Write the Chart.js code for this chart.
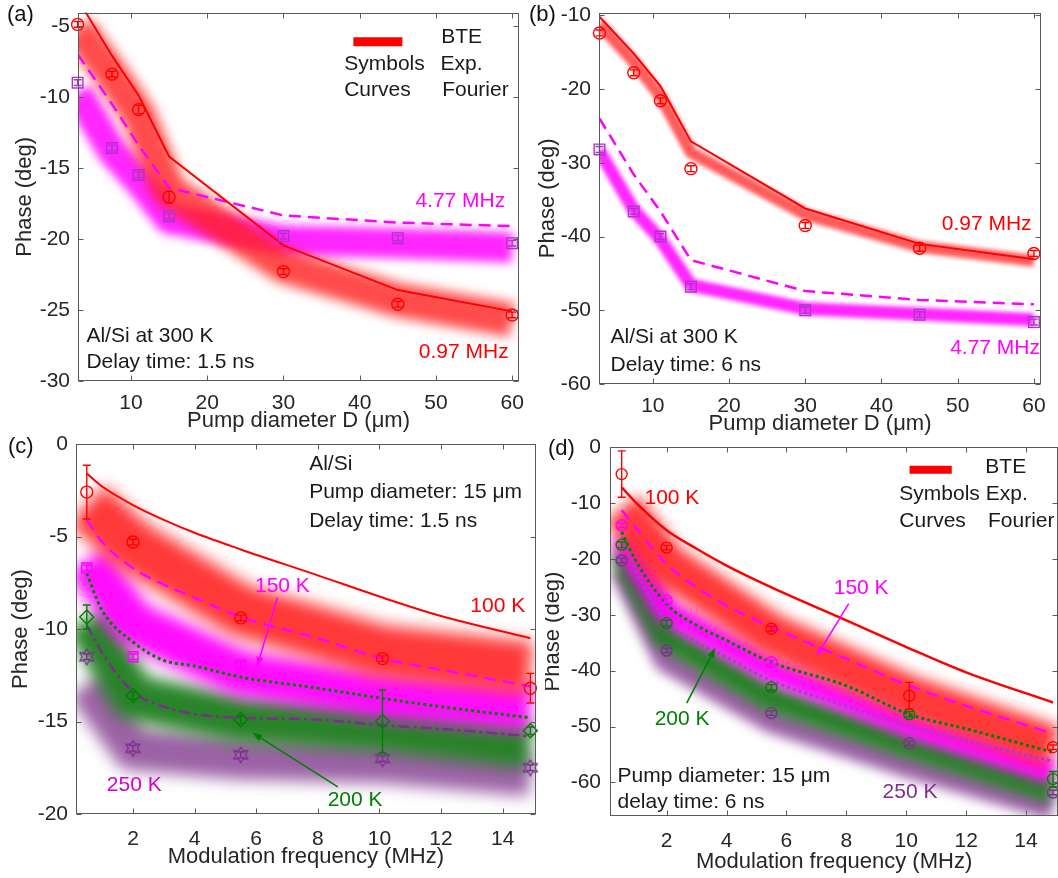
<!DOCTYPE html>
<html>
<head>
<meta charset="utf-8">
<script src="https://cdn.jsdelivr.net/npm/chart.js@4.4.1/dist/chart.umd.min.js"></script>
<style>
  body { margin: 0; background: #fff; width: 1058px; height: 878px; overflow: hidden; position: relative; }
  .panel { position: absolute; }
</style>
</head>
<body>
<div class="panel" style="left:0;top:0"><canvas id="chart-a" width="529" height="440"></canvas></div>
<div class="panel" style="left:529px;top:0"><canvas id="chart-b" width="529" height="444"></canvas></div>
<div class="panel" style="left:0;top:420px"><canvas id="chart-c" width="545" height="458"></canvas></div>
<div class="panel" style="left:545px;top:420px"><canvas id="chart-d" width="520" height="458"></canvas></div>
<script>
// ---- panels (a), (b): phase vs pump diameter ----
const diameters = [3, 7.5, 11, 15, 30, 45, 60];
const aExp097 = [-4.9, -8.4, -10.9, -17.05, -22.3, -24.6, -25.35];
const aExp477 = [-9.0, -13.6, -15.5, -18.4, -19.8, -19.95, -20.3];
const aErr097 = [0.2, 0.2, 0.3, 0.4, 0.2, 0.2, 0.2];
const aErr477 = [0.2, 0.2, 0.2, 0.2, 0.2, 0.2, 0.2];
const aFou097 = [-3.1, -7.1, -9.9, -14.2, -20.45, -23.6, -25.1];
const aFou477 = [-7.0, -10.5, -13.4, -16.4, -18.35, -18.85, -19.1];
const aBte097 = [-5.2, -8.5, -11.3, -16.6, -21.9, -24.3, -25.7];
const aBte477 = [-9.7, -13.8, -15.9, -18.6, -20.1, -20.3, -20.6];

const bExp097 = [-12.4, -17.8, -21.6, -30.8, -38.5, -41.6, -42.3];
const bExp477 = [-28.2, -36.6, -40.0, -46.8, -50.0, -50.6, -51.6];
const bErr = [0.4, 0.4, 0.4, 0.4, 0.4, 0.4, 0.4];
const bFou097 = [-10.2, -15.2, -19.6, -27.1, -36.2, -41.0, -43.1];
const bFou477 = [-24.0, -31.6, -36.6, -43.2, -47.4, -48.6, -49.2];
const bBte097 = [-11.2, -16.3, -21.0, -28.6, -37.0, -41.4, -43.3];
const bBte477 = [-28.4, -36.4, -40.4, -46.6, -49.8, -50.5, -51.3];

const diamTicks = [10, 20, 30, 40, 50, 60];
const aPhaseTicks = [-30, -25, -20, -15, -10, -5];
const bPhaseTicks = [-60, -50, -40, -30, -20, -10];

// ---- panels (c), (d): phase vs modulation frequency ----
const freqs = [0.5, 2, 5.5, 10.1, 14.9];
const curveFreqs = [0.5, 1, 2, 3, 4, 5.5, 8, 10.1, 12, 14.9];

const cExp100 = [-2.6, -5.3, -9.4, -11.6, -13.2];
const cErr100 = [1.45, 0.15, 0.15, 0.15, 0.8];
const cExp150 = [-6.7, -11.5, -11.95, null, null];
const cErr150 = [0.15, 0.15, 0.15, 0, 0];
const cExp200 = [-9.35, -13.6, -14.9, -15.0, -15.5];
const cErr200 = [0.65, 0.2, 0.2, 1.7, 0.2];
const cExp250 = [-11.5, -16.45, -16.8, -17.0, -17.5];
const cErr250 = [0.15, 0.15, 0.15, 0.15, 0.15];
const cFou100 = [-1.6, -2.3, -3.3, -4.1, -4.8, -5.7, -7.1, -8.3, -9.3, -10.5];
const cFou150 = [-4.1, -5.3, -6.7, -7.6, -8.3, -9.35, -10.5, -11.6, -12.2, -13.1];
const cFou200 = [-7.0, -9.0, -10.7, -11.7, -12.0, -12.6, -13.2, -13.75, -14.2, -14.8];
const cFou250 = [-9.8, -11.3, -13.4, -14.2, -14.6, -14.8, -14.9, -15.2, -15.4, -15.8];
const cBte100 = [-3.3, -5.5, -9.0, -11.2, -12.1];
const cBte150 = [-6.3, -9.7, -12.4, -13.6, -14.3];
const cBte200 = [-9.5, -13.7, -14.9, -15.4, -16.3];
const cBte250 = [-13.0, -16.5, -17.0, -17.2, -17.9];

const dExp100 = [-4.85, -18.0, -32.5, -44.5, -53.7];
const dErr100 = [4.15, 0.4, 0.4, 2.4, 0.4];
const dExp150 = [-14.0, -27.5, -38.5, null, null];
const dErr150 = [0.4, 0.4, 0.4, 0, 0];
const dExp200 = [-17.5, -31.5, -43.0, -47.8, -59.4];
const dErr200 = [0.5, 0.5, 0.5, 0.5, 1.35];
const dExp250 = [-20.3, -36.4, -47.6, -53.0, -61.8];
const dErr250 = [0.4, 0.4, 0.4, 0.4, 0.4];
const dFou100 = [-7.2, -10.1, -14.9, -18.2, -21.2, -25.1, -31.0, -36.0, -40.3, -45.7];
const dFou150 = [-11.3, -14.6, -21.0, -25.1, -28.4, -32.2, -37.9, -42.7, -46.3, -51.3];
const dFou200 = [-15.2, -20.6, -28.1, -31.9, -34.6, -38.5, -42.7, -47.8, -50.4, -54.6];
const dFou250 = [-16.1, -22.4, -31.3, -34.9, -37.6, -41.8, -46.3, -49.9, -52.5, -56.2];
const dBte100 = [-11.0, -21.0, -33.5, -44.6, -53.6];
const dBte150 = [-16.0, -29.4, -39.9, -49.7, -58.1];
const dBte200 = [-18.4, -33.8, -44.9, -53.3, -61.3];
const dBte250 = [-21.5, -38.0, -48.8, -56.9, -64.4];

const freqTicks = [2, 4, 6, 8, 10, 12, 14];
const cPhaseTicks = [-20, -15, -10, -5, 0];
const dPhaseTicks = [-60, -50, -40, -30, -20, -10, 0];

// colours and fonts
const FONT = '"Liberation Sans", Arial, Helvetica, sans-serif';
const TXT = '#262626';
const RED = 'rgb(255,0,0)';
const MAG = 'rgb(255,0,255)';
const GRN = 'rgb(0,128,0)';
const PUR = 'rgb(126,47,142)';
const SQR = 'rgb(175,50,205)';

function xy(xs, ys) {
  return xs.map((x, i) => ({ x: x, y: ys[i] }));
}

function band(xs, ys, color, width, blur, order) {
  return {
    data: xy(xs, ys), borderColor: color, borderWidth: width, blur: blur,
    pointRadius: 0, fill: false, tension: 0, order: order, clip: 0,
    borderCapStyle: 'butt', borderJoinStyle: 'round'
  };
}

function curve(xs, ys, color, width, dash, smooth) {
  return {
    data: xy(xs, ys), borderColor: color, borderWidth: width, borderDash: dash,
    pointRadius: 0, fill: false, order: 3, clip: 0,
    tension: smooth ? 0.4 : 0, cubicInterpolationMode: smooth ? 'monotone' : 'default'
  };
}

function marks(xs, ys, color, style, radius, errors) {
  return {
    data: xy(xs, ys), showLine: false, pointStyle: style, pointRadius: radius,
    pointBorderColor: color, pointBackgroundColor: 'rgba(0,0,0,0)', pointBorderWidth: 1.4,
    errors: errors, order: 1, clip: false
  };
}

// outline hexagram marker (MATLAB 'h')
function hexagram(color, r) {
  const c = document.createElement('canvas');
  const s = Math.ceil(r * 2 + 4);
  c.width = s; c.height = s;
  const g = c.getContext('2d');
  g.strokeStyle = color;
  g.lineWidth = 1.3;
  g.beginPath();
  for (let k = 0; k <= 12; k++) {
    const ang = -Math.PI / 2 + k * Math.PI / 6;
    const rr = k % 2 === 0 ? r : r * 0.577;
    const px = s / 2 + rr * Math.cos(ang), py = s / 2 + rr * Math.sin(ang);
    if (k === 0) g.moveTo(px, py); else g.lineTo(px, py);
  }
  g.stroke();
  return c;
}

// soft edges for the BTE bands
const bandBlur = {
  id: 'bandBlur',
  beforeDatasetDraw(chart, args) {
    const b = chart.data.datasets[args.index].blur;
    if (b) chart.ctx.filter = 'blur(' + b + 'px)';
  },
  afterDatasetDraw(chart) {
    chart.ctx.filter = 'none';
  }
};

const errorBars = {
  id: 'errorBars',
  afterDatasetDraw(chart, args) {
    const ds = chart.data.datasets[args.index];
    if (!ds.errors) return;
    const xs = chart.scales.x, ys = chart.scales.y, ctx = chart.ctx;
    ctx.save();
    ctx.strokeStyle = ds.pointBorderColor;
    ctx.lineWidth = 1.4;
    ds.data.forEach((p, i) => {
      const e = ds.errors[i];
      if (p.y == null || !e) return;
      const px = xs.getPixelForValue(p.x);
      const top = ys.getPixelForValue(p.y + e), bot = ys.getPixelForValue(p.y - e);
      ctx.beginPath();
      ctx.moveTo(px, top); ctx.lineTo(px, bot);
      ctx.moveTo(px - 4, top); ctx.lineTo(px + 4, top);
      ctx.moveTo(px - 4, bot); ctx.lineTo(px + 4, bot);
      ctx.stroke();
    });
    ctx.restore();
  }
};

// box, inward ticks, labels, arrows, legend
const decor = {
  id: 'decor',
  afterDatasetsDraw(chart) {
    const ctx = chart.ctx, a = chart.chartArea, xs = chart.scales.x, ys = chart.scales.y;
    const L = Math.round(a.left) + 0.5, R = Math.round(a.right) - 0.5;
    const T = Math.round(a.top) + 0.5, B = Math.round(a.bottom) - 0.5;
    ctx.save();
    ctx.strokeStyle = '#5a5a5a';
    ctx.lineWidth = 1;
    ctx.strokeRect(L, T, R - L, B - T);
    ctx.beginPath();
    xs.ticks.forEach(t => {
      const p = Math.round(xs.getPixelForValue(t.value)) + 0.5;
      ctx.moveTo(p, B); ctx.lineTo(p, B - 5);
      ctx.moveTo(p, T); ctx.lineTo(p, T + 5);
    });
    ys.ticks.forEach(t => {
      const p = Math.round(ys.getPixelForValue(t.value)) + 0.5;
      ctx.moveTo(L, p); ctx.lineTo(L + 5, p);
      ctx.moveTo(R, p); ctx.lineTo(R - 5, p);
    });
    ctx.stroke();
    ctx.restore();
  },
  afterDraw(chart, args, o) {
    const ctx = chart.ctx, xs = chart.scales.x, ys = chart.scales.y;
    const X = v => xs.getPixelForValue(v), Y = v => ys.getPixelForValue(v);
    ctx.save();
    ctx.textBaseline = 'middle';
    if (o.tag) {
      ctx.font = '22px ' + FONT;
      ctx.fillStyle = '#111';
      ctx.textAlign = 'left';
      ctx.fillText(o.tag.text, o.tag.x, o.tag.y);
    }
    (o.bars || []).forEach(b => {
      ctx.strokeStyle = b.color;
      ctx.lineWidth = b.width;
      ctx.beginPath();
      ctx.moveTo(X(b.x1), Y(b.y)); ctx.lineTo(X(b.x2), Y(b.y));
      ctx.stroke();
    });
    (o.arrows || []).forEach(ar => {
      const x1 = X(ar.from[0]), y1 = Y(ar.from[1]), x2 = X(ar.to[0]), y2 = Y(ar.to[1]);
      const ang = Math.atan2(y2 - y1, x2 - x1);
      ctx.strokeStyle = ar.color; ctx.fillStyle = ar.color; ctx.lineWidth = 1.6;
      ctx.beginPath();
      ctx.moveTo(x1, y1); ctx.lineTo(x2 - 8 * Math.cos(ang), y2 - 8 * Math.sin(ang));
      ctx.stroke();
      ctx.beginPath();
      ctx.moveTo(x2, y2);
      ctx.lineTo(x2 - 10 * Math.cos(ang) + 3.5 * Math.sin(ang), y2 - 10 * Math.sin(ang) - 3.5 * Math.cos(ang));
      ctx.lineTo(x2 - 10 * Math.cos(ang) - 3.5 * Math.sin(ang), y2 - 10 * Math.sin(ang) + 3.5 * Math.cos(ang));
      ctx.closePath();
      ctx.fill();
    });
    ctx.font = '21px ' + FONT;
    (o.texts || []).forEach(t => {
      ctx.fillStyle = t.color || '#1a1a1a';
      ctx.textAlign = t.align || 'left';
      ctx.fillText(t.text, X(t.x), Y(t.y));
    });
    ctx.restore();
  }
};

function axis(kind, a) {
  return {
    type: 'linear',
    position: kind === 'x' ? 'bottom' : 'left',
    min: a.min, max: a.max,
    afterFit: s => { if (kind === 'x') s.height = a.size; else s.width = a.size; },
    afterBuildTicks: s => { s.ticks = a.ticks.map(v => ({ value: v })); },
    grid: { display: false },
    border: { display: false },
    ticks: {
      color: TXT, font: { family: FONT, size: 21 }, padding: a.pad,
      maxRotation: 0, autoSkip: false, callback: v => String(v)
    },
    title: {
      display: true, text: a.title, color: TXT,
      font: { family: FONT, size: 22 }, padding: a.titlePad
    }
  };
}

function panel(id, o) {
  return new Chart(document.getElementById(id), {
    type: 'line',
    data: { datasets: o.datasets },
    options: {
      responsive: false,
      animation: false,
      devicePixelRatio: 1,
      layout: { padding: o.padding },
      plugins: { legend: { display: false }, tooltip: { enabled: false }, decor: o.decor },
      scales: { x: axis('x', o.x), y: axis('y', o.y) }
    },
    plugins: [bandBlur, errorBars, decor]
  });
}

// (a)
panel('chart-a', {
  padding: { left: 0, right: 10, top: 5, bottom: 0 },
  x: { min: 3.05, max: 60.9, ticks: diamTicks, size: 59, pad: 2, title: 'Pump diameter D (\u03bcm)', titlePad: { top: 0, bottom: 6 } },
  y: { min: -30, max: -4.07, ticks: aPhaseTicks, size: 78, pad: 0, title: 'Phase (deg)', titlePad: { top: 12, bottom: 0 } },
  datasets: [
    band(diameters, aBte477, 'rgba(255,0,255,0.85)', 30, 5, 11),
    band(diameters, aBte097, 'rgba(255,30,30,0.8)', 34, 6, 10),
    curve(diameters, aFou097, RED, 2, [], false),
    curve(diameters, aFou477, MAG, 2.5, [12, 7], false),
    marks(diameters, aExp097, RED, 'circle', 6, aErr097),
    marks(diameters, aExp477, SQR, 'rect', 7.5, aErr477)
  ],
  decor: {
    tag: { text: '(a)', x: 7, y: 15 },
    bars: [{ x1: 39.17, x2: 45.6, y: -6.12, color: RED, width: 9 }],
    texts: [
      { text: '4.77 MHz', x: 59.1, y: -17.35, color: MAG, align: 'right' },
      { text: '0.97 MHz', x: 59.55, y: -27.95, color: RED, align: 'right' },
      { text: 'Al/Si at 300 K', x: 4.15, y: -26.85 },
      { text: 'Delay time: 1.5 ns', x: 4.15, y: -28.7 },
      { text: 'BTE', x: 50.7, y: -5.8 },
      { text: 'Symbols', x: 37.97, y: -7.72 },
      { text: 'Exp.', x: 50.6, y: -7.72 },
      { text: 'Curves', x: 37.97, y: -9.54 },
      { text: 'Fourier', x: 50.82, y: -9.54 }
    ]
  }
});

// (b)
panel('chart-b', {
  padding: { left: 0, right: 17, top: 10, bottom: 0 },
  x: { min: 2.94, max: 60.93, ticks: diamTicks, size: 60, pad: 2, title: 'Pump diameter D (\u03bcm)', titlePad: { top: 0, bottom: 7 } },
  y: { min: -60, max: -9.64, ticks: bPhaseTicks, size: 70, pad: 0, title: 'Phase (deg)', titlePad: { top: 6, bottom: 0 } },
  datasets: [
    band(diameters, bBte477, 'rgba(255,0,255,0.85)', 13, 2, 11),
    band(diameters, bBte097, 'rgba(255,50,50,0.8)', 12, 2, 10),
    curve(diameters, bFou097, RED, 2, [], false),
    curve(diameters, bFou477, MAG, 2.5, [12, 7], false),
    marks(diameters, bExp097, RED, 'circle', 6, bErr),
    marks(diameters, bExp477, SQR, 'rect', 7.5, bErr)
  ],
  decor: {
    tag: { text: '(b)', x: 0, y: 15 },
    texts: [
      { text: '0.97 MHz', x: 59.7, y: -38.27, color: RED, align: 'right' },
      { text: '4.77 MHz', x: 60.8, y: -55.1, color: MAG, align: 'right' },
      { text: 'Al/Si at 300 K', x: 4.45, y: -53.7 },
      { text: 'Delay time: 6 ns', x: 4.45, y: -57.4 }
    ]
  }
});

// (c)
panel('chart-c', {
  padding: { left: 0, right: 6, top: 24, bottom: 0 },
  x: { min: 0.15, max: 15.07, ticks: freqTicks, size: 64, pad: 4.5, title: 'Modulation frequency (MHz)', titlePad: { top: 0, bottom: 8 } },
  y: { min: -20, max: 0, ticks: cPhaseTicks, size: 76, pad: 0, title: 'Phase (deg)', titlePad: { top: 8, bottom: 0 } },
  datasets: [
    band(freqs, cBte250, 'rgba(150,90,160,0.95)', 42, 8, 13),
    band(freqs, cBte200, 'rgba(30,125,30,0.95)', 46, 8, 12),
    band(freqs, cBte150, 'rgba(255,0,255,0.95)', 46, 8, 11),
    band(freqs, cBte100, 'rgba(255,45,45,0.95)', 52, 8, 10),
    curve(curveFreqs, cFou100, RED, 2, [], true),
    curve(curveFreqs, cFou150, MAG, 2.5, [12, 7], true),
    curve(curveFreqs, cFou200, GRN, 3, [3, 3], true),
    curve(curveFreqs, cFou250, PUR, 2.5, [11, 4, 3, 4], true),
    marks(freqs, cExp100, RED, 'circle', 6, cErr100),
    marks(freqs, cExp150, MAG, 'rect', 7, cErr150),
    marks(freqs, cExp200, GRN, 'rectRot', 7, cErr200),
    marks(freqs, cExp250, PUR, hexagram(PUR, 8), 8, cErr250)
  ],
  decor: {
    tag: { text: '(c)', x: 8, y: 27 },
    arrows: [
      { from: [6.69, -8.3], to: [6.03, -12.04], color: MAG },
      { from: [8.65, -18.53], to: [5.87, -15.6], color: GRN }
    ],
    texts: [
      { text: 'Al/Si', x: 7.72, y: -1.08 },
      { text: 'Pump diameter: 15 \u03bcm', x: 7.72, y: -2.63 },
      { text: 'Delay time: 1.5 ns', x: 7.72, y: -4.15 },
      { text: '150 K', x: 6.85, y: -7.66, color: MAG, align: 'center' },
      { text: '100 K', x: 12.95, y: -8.76, color: RED },
      { text: '250 K', x: 1.15, y: -18.43, color: 'rgb(210,0,210)' },
      { text: '200 K', x: 8.32, y: -19.26, color: GRN }
    ]
  }
});

// (d)
panel('chart-d', {
  padding: { left: 0, right: 6, top: 27, bottom: 0 },
  x: { min: 0.11, max: 15.07, ticks: freqTicks, size: 62, pad: 5, title: 'Modulation frequency (MHz)', titlePad: { top: 0, bottom: 3 } },
  y: { min: -66, max: 0, ticks: dPhaseTicks, size: 65, pad: 1, title: 'Phase (deg)', titlePad: { top: -5, bottom: 0 } },
  datasets: [
    band(freqs, dBte250, 'rgba(150,90,160,0.95)', 26, 6, 13),
    band(freqs, dBte200, 'rgba(30,125,30,0.95)', 28, 6, 12),
    band(freqs, dBte150, 'rgba(255,0,255,0.95)', 26, 6, 11),
    band(freqs, dBte100, 'rgba(255,45,45,0.95)', 42, 7, 10),
    curve(curveFreqs, dFou100, RED, 2.5, [], true),
    curve(curveFreqs, dFou150, MAG, 2.5, [12, 7], true),
    curve(curveFreqs, dFou200, GRN, 3, [3, 3], true),
    curve(curveFreqs, dFou250, 'rgb(170,60,205)', 3, [3, 3], true),
    marks(freqs, dExp100, RED, 'circle', 5.5, dErr100),
    marks(freqs, dExp150, MAG, 'circle', 5.5, dErr150),
    marks(freqs, dExp200, GRN, 'circle', 5.5, dErr200),
    marks(freqs, dExp250, PUR, 'circle', 5.5, dErr250)
  ],
  decor: {
    tag: { text: '(d)', x: 3, y: 29 },
    bars: [{ x1: 10.11, x2: 11.52, y: -4.05, color: RED, width: 8 }],
    arrows: [
      { from: [8.08, -28.0], to: [7.01, -37.4], color: MAG },
      { from: [2.67, -45.8], to: [3.63, -35.9], color: GRN }
    ],
    texts: [
      { text: '100 K', x: 1.26, y: -9.1, color: RED },
      { text: '150 K', x: 7.58, y: -25.3, color: MAG },
      { text: '200 K', x: 1.6, y: -48.7, color: GRN },
      { text: '250 K', x: 9.21, y: -61.8, color: PUR },
      { text: 'Pump diameter: 15 \u03bcm', x: 0.36, y: -58.8 },
      { text: 'delay time: 6 ns', x: 0.36, y: -63.6 },
      { text: 'BTE', x: 12.64, y: -3.6 },
      { text: 'Symbols Exp.', x: 9.77, y: -8.4 },
      { text: 'Curves', x: 9.77, y: -13.2 },
      { text: 'Fourier', x: 12.73, y: -13.2 }
    ]
  }
});
</script>
</body>
</html>
